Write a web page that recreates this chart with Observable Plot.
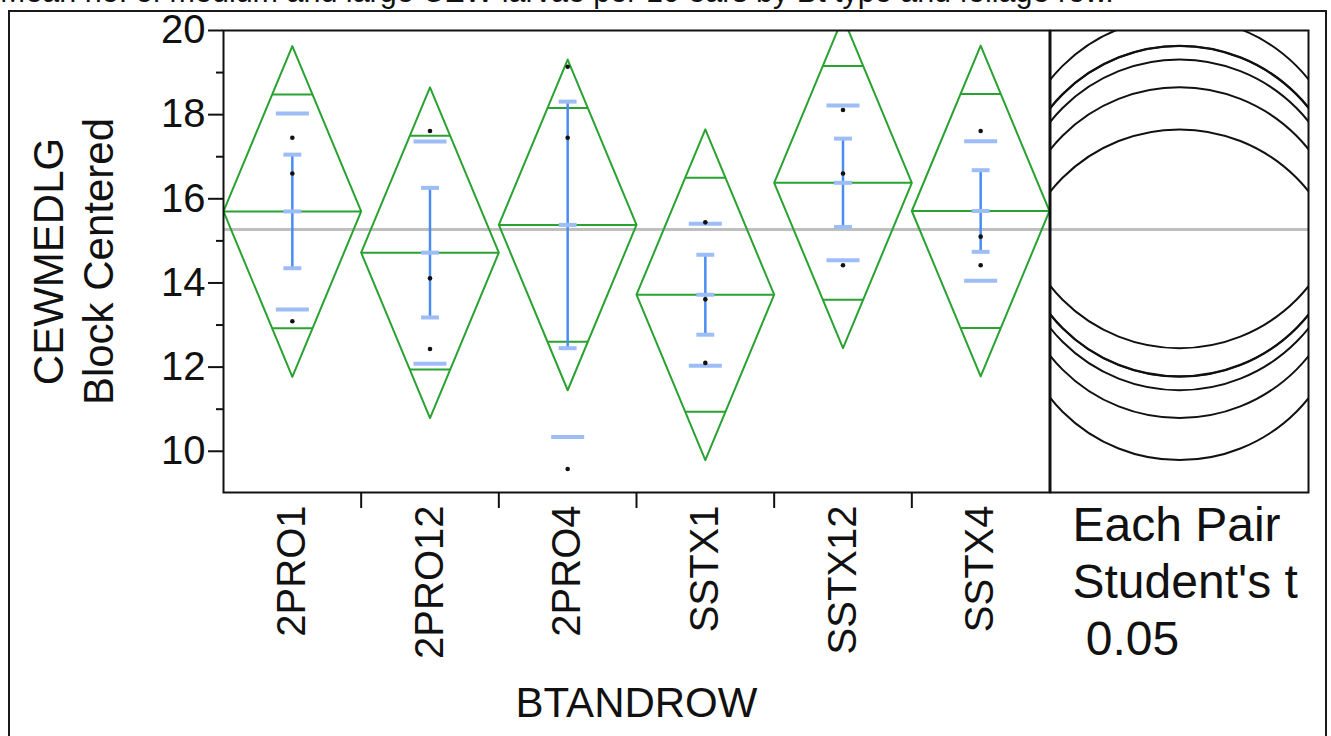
<!DOCTYPE html>
<html>
<head>
<meta charset="utf-8">
<script src="https://cdn.jsdelivr.net/npm/d3@7"></script>
<script src="https://cdn.jsdelivr.net/npm/@observablehq/plot@0.6"></script>
<style>
  html, body { margin: 0; padding: 0; background: #fff; overflow: hidden; }
  body { width: 1331px; height: 736px; position: relative; font-family: "Liberation Sans", Arial, Helvetica, sans-serif; color: #111; }
  #title { position: absolute; left: 0; top: -26px; font-size: 30.5px; white-space: nowrap; }
  #box { position: absolute; left: 8px; top: 10px; width: 1315px; height: 800px; border: 2px solid #1a1a1a; border-bottom: none; }
  #main, #circ { position: absolute; top: 0; }
  #main { left: 0; }
  #circ { left: 1049px; }
  svg { overflow: visible; }
</style>
</head>
<body>
<div id="title">Mean no. of medium and large CEW larvae per 10 ears by Bt type and foliage row.</div>
<div id="box"></div>
<div id="main"></div>
<div id="circ"></div>
<script>
// Group levels of BTANDROW
const groups = ["2PRO1", "2PRO12", "2PRO4", "SSTX1", "SSTX12", "SSTX4"];
// Group means (block centered) and 95% CI half-widths for the means diamonds
const means = [15.70, 14.72, 15.38, 13.72, 16.38, 15.71];
const ciHalf = [3.93, 3.93, 3.93, 3.93, 3.93, 3.93];
// Standard deviation and standard error of each group
const stdDev = [2.33, 2.64, 5.04, 1.69, 1.84, 1.66];
const stdErr = [1.35, 1.54, 2.93, 0.95, 1.05, 0.97];
// Block-centered observations, three per group
const obs = [
  [17.45, 16.60, 13.09],
  [17.61, 14.11, 12.43],
  [19.14, 17.45, 9.58],
  [15.44, 13.61, 12.10],
  [18.11, 16.60, 14.42],
  [17.61, 15.10, 14.42]
];
const grandMean = 15.27;
const yTicks = [10, 12, 14, 16, 18, 20];
const yMinor = [11, 13, 15, 17, 19];
const yTitle = "CEWMEDLG\nBlock Centered";
const xTitle = "BTANDROW";
const testNote = "Each Pair\nStudent's t\n\u00a00.05";

const font = "'Liberation Sans', Arial, Helvetica, sans-serif";
const green = "#29a232";
const blue = "#4b8cf0";
const lightBlue = "#9dbdf6";
const yDomain = [9.02, 20];

const rows = groups.map((g, i) => ({g, i, mean: means[i], ci: ciHalf[i], sd: stdDev[i], se: stdErr[i]}));

// diamond outline: left, top, right, bottom vertices of each group's band
const shape = [[0, 0], [0.5, 1], [1, 0], [0.5, -1], [0, 0]];
const diamonds = rows.flatMap(d => shape.map(([fx, fy]) => ({g: d.g, x: d.i + fx, y: d.mean + fy * d.ci})));

// overlap marks sit at mean ± ci/√2, spanning the diamond's width at that height
const k = Math.SQRT1_2;
const ovW = 0.5 * (1 - k);
const overlap = rows.flatMap(d => [1, -1].map(s => ({c: d.i + 0.5, y: d.mean + s * d.ci * k})));
const points = rows.flatMap(d => obs[d.i].map(v => ({x: d.i + 0.5, y: v})));

const capW = 0.065;
const sdW = 0.12;
const seEnds = rows.flatMap(d => [d.mean - d.se, d.mean, d.mean + d.se].map(y => ({c: d.i + 0.5, y})));
const sdEnds = rows.flatMap(d => [d.mean - d.sd, d.mean + d.sd].map(y => ({c: d.i + 0.5, y})));

const main = Plot.plot({
  width: 1050,
  height: 736,
  marginLeft: 223,
  marginRight: 1,
  marginTop: 30,
  marginBottom: 244,
  style: {fontFamily: font, fontSize: "40px", color: "#111", background: "transparent"},
  x: {domain: [0, 6]},
  y: {domain: yDomain},
  marks: [
    Plot.ruleY([grandMean], {stroke: "#bfbfbf", strokeWidth: 3}),
    Plot.line(diamonds, {x: "x", y: "y", z: "g", stroke: green, strokeWidth: 2, clip: true}),
    Plot.link(rows, {x1: d => d.i, x2: d => d.i + 1, y1: "mean", y2: "mean", stroke: green, strokeWidth: 2}),
    Plot.link(overlap, {x1: d => d.c - ovW, x2: d => d.c + ovW, y1: "y", y2: "y", stroke: green, strokeWidth: 2, clip: true}),
    Plot.link(sdEnds, {x1: d => d.c - sdW, x2: d => d.c + sdW, y1: "y", y2: "y", stroke: lightBlue, strokeWidth: 4, clip: true}),
    Plot.link(rows, {x1: d => d.i + 0.5, x2: d => d.i + 0.5, y1: d => d.mean - d.se, y2: d => d.mean + d.se, stroke: blue, strokeWidth: 2.5}),
    Plot.link(seEnds, {x1: d => d.c - capW, x2: d => d.c + capW, y1: "y", y2: "y", stroke: lightBlue, strokeWidth: 4}),
    Plot.dot(points, {x: "x", y: "y", r: 2.3, fill: "#111"}),
    Plot.frame({stroke: "#111", strokeWidth: 2}),
    Plot.axisY({ticks: yTicks, tickSize: 15, tickPadding: 3, label: null, strokeWidth: 2}),
    Plot.axisY({ticks: yMinor, tickSize: 7, tickFormat: () => "", label: null, strokeWidth: 2}),
    Plot.axisX({ticks: [1, 2, 3, 4, 5], tickSize: 16, tickFormat: () => "", label: null, strokeWidth: 2}),
    Plot.axisX({ticks: groups.map((g, i) => i + 0.5), tickSize: 0, tickPadding: 13, tickRotate: -90,
      tickFormat: v => groups[Math.floor(v)], label: null}),
    Plot.text([xTitle], {frameAnchor: "bottom", dy: 224, lineAnchor: "bottom", fontSize: 42}),
    Plot.text([yTitle], {frameAnchor: "left", dx: -111, rotate: -90, textAnchor: "middle", lineAnchor: "bottom", lineHeight: 1.19, fontSize: 42})
  ]
});
document.getElementById("main").append(main);

// comparison circles: each centred on its group mean with radius equal to the CI half-width
const circ = Plot.plot({
  width: 260,
  height: 736,
  marginLeft: 1,
  marginRight: 1,
  marginTop: 30,
  marginBottom: 244,
  style: {fontFamily: font, fontSize: "48px", color: "#111", background: "transparent"},
  x: {domain: [0, 1], axis: null},
  y: {domain: yDomain, axis: null},
  marks: [
    Plot.ruleY([grandMean], {stroke: "#bfbfbf", strokeWidth: 3}),
    Plot.dot(rows, {
      x: () => 0.5, y: "mean", r: 1, stroke: "#111", strokeWidth: 2, fill: "none", clip: true,
      render(index, scales, values, dims, ctx, next) {
        const g = next(index, scales, values, dims, ctx);
        const nodes = g.querySelectorAll("circle");
        index.forEach((i, j) => {
          const r = Math.abs(scales.y(rows[i].mean + rows[i].ci) - scales.y(rows[i].mean));
          nodes[j].setAttribute("r", r);
        });
        return g;
      }
    }),
    Plot.frame({stroke: "#111", strokeWidth: 2}),
    Plot.text([testNote], {frameAnchor: "bottom-left", dx: 22, dy: 8, textAnchor: "start", lineAnchor: "top", lineHeight: 1.19, fontSize: 48})
  ]
});
document.getElementById("circ").append(circ);
</script>
</body>
</html>
